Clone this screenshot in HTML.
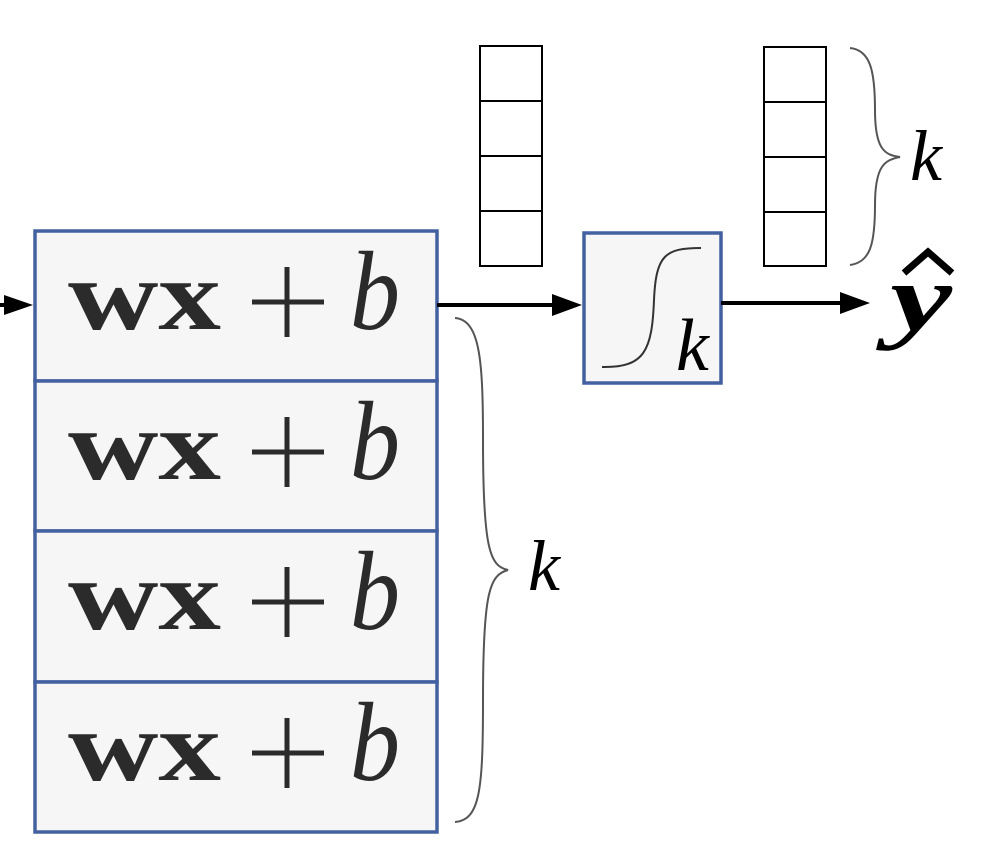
<!DOCTYPE html>
<html><head><meta charset="utf-8"><style>
html,body{margin:0;padding:0;background:#fff;}
svg{display:block;}
.w{font-family:"Liberation Serif",serif;fill:#2b2b2b;font-weight:bold;font-size:100px;}
.b{font-family:"Liberation Serif",serif;fill:#2b2b2b;font-style:italic;font-size:112px;}
</style></head><body>
<svg width="982" height="858" viewBox="0 0 982 858" xmlns="http://www.w3.org/2000/svg">
<g>
<line x1="0" y1="305" x2="20" y2="305" stroke="#000" stroke-width="4"/>
<path d="M4,295 L33,305 L4,315 z" fill="#000"/>
</g>
<g>
<rect x="35" y="231" width="402" height="150" fill="#f6f6f6" stroke="#4361a0" stroke-width="3.5"/>
<rect x="35" y="381" width="402" height="150" fill="#f6f6f6" stroke="#4361a0" stroke-width="3.5"/>
<rect x="35" y="531" width="402" height="151" fill="#f6f6f6" stroke="#4361a0" stroke-width="3.5"/>
<rect x="35" y="682" width="402" height="150" fill="#f6f6f6" stroke="#4361a0" stroke-width="3.5"/>
<g><text class="w" x="68" y="329" textLength="153" lengthAdjust="spacingAndGlyphs">wx</text><path d="M252,302 H324 M287,267 V337" stroke="#2b2b2b" stroke-width="5"/><text class="b" x="350" y="329" textLength="50" lengthAdjust="spacingAndGlyphs">b</text></g>
<g><text class="w" x="68" y="479" textLength="153" lengthAdjust="spacingAndGlyphs">wx</text><path d="M252,452 H324 M287,417 V487" stroke="#2b2b2b" stroke-width="5"/><text class="b" x="350" y="479" textLength="50" lengthAdjust="spacingAndGlyphs">b</text></g>
<g><text class="w" x="68" y="629" textLength="153" lengthAdjust="spacingAndGlyphs">wx</text><path d="M252,602 H324 M287,567 V637" stroke="#2b2b2b" stroke-width="5"/><text class="b" x="350" y="629" textLength="50" lengthAdjust="spacingAndGlyphs">b</text></g>
<g><text class="w" x="68" y="780" textLength="153" lengthAdjust="spacingAndGlyphs">wx</text><path d="M252,753 H324 M287,718 V788" stroke="#2b2b2b" stroke-width="5"/><text class="b" x="350" y="780" textLength="50" lengthAdjust="spacingAndGlyphs">b</text></g>
</g>
<g>
<line x1="437" y1="305" x2="560" y2="305" stroke="#000" stroke-width="4"/>
<path d="M552,294 L582,305 L552,316 z" fill="#000"/>
</g>
<g>
<rect x="584" y="233" width="137" height="150" fill="#f6f6f6" stroke="#4361a0" stroke-width="3.5"/>
<path d="M602,367 C645,368 652,350 654,300 C656,255 665,248 701,248" fill="none" stroke="#333" stroke-width="2"/>
<text x="676" y="370" font-family="Liberation Serif,serif" font-size="74" font-style="italic" fill="#000">k</text>
</g>
<g>
<line x1="721" y1="303" x2="845" y2="303" stroke="#000" stroke-width="4"/>
<path d="M840,292 L870,303 L840,314 z" fill="#000"/>
</g>
<text x="890" y="330" font-family="Liberation Serif,serif" font-size="96" font-weight="bold" font-style="italic" fill="#000" textLength="62" lengthAdjust="spacingAndGlyphs">y</text>
<path d="M904,273 L928,252 L952,273" fill="none" stroke="#000" stroke-width="7"/>
<g fill="#fff" stroke="#000" stroke-width="2">
<rect x="480" y="46" width="62" height="55"/><rect x="480" y="101" width="62" height="55"/><rect x="480" y="156" width="62" height="55"/><rect x="480" y="211" width="62" height="55"/>
</g>
<g fill="#fff" stroke="#000" stroke-width="2">
<rect x="764" y="47" width="62" height="55"/><rect x="764" y="102" width="62" height="55"/><rect x="764" y="157" width="62" height="55"/><rect x="764" y="212" width="62" height="54"/>
</g>
<path d="M850,48 C870,50 875,70 875,110 C875,150 885,155 900,157 C885,160 875,165 875,205 C875,245 870,262 850,265" fill="none" stroke="#555" stroke-width="2"/>
<text x="910" y="180" font-family="Liberation Serif,serif" font-size="72" font-style="italic" fill="#000">k</text>
<path d="M455,318 C480,320 483,360 483,440 C483,550 490,566 508,570 C490,575 483,590 483,700 C483,790 480,820 455,822" fill="none" stroke="#555" stroke-width="2"/>
<text x="528" y="590" font-family="Liberation Serif,serif" font-size="72" font-style="italic" fill="#000">k</text>
</svg>
</body></html>
